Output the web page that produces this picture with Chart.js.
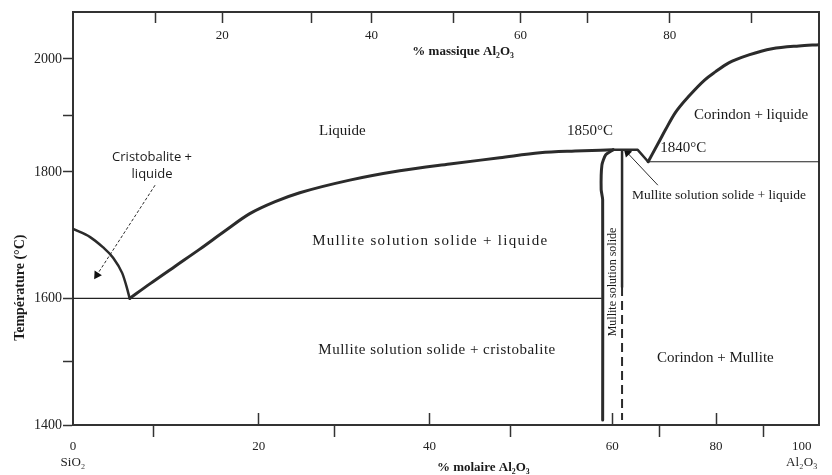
<!DOCTYPE html>
<html>
<head>
<meta charset="utf-8">
<script src="https://cdn.jsdelivr.net/npm/chart.js@4.4.1/dist/chart.umd.min.js"></script>
<style>
  body { margin: 0; background: #fff; }
</style>
</head>
<body>
<canvas id="chartPhase" width="832" height="475"></canvas>
<script>
// Diagramme de phases SiO2 - Al2O3
// x = % massique Al2O3 (axe du haut), y = température en °C

const massTicks = [11, 20, 32, 40, 51, 60, 69, 80, 91];
const massTickLabels = ['', '20', '', '40', '', '60', '', '80', ''];

// graduations en % molaire, placees la ou elles tombent sur l'echelle massique
// (le libelle 100 est decale vers l'interieur comme sur l'original)
const molTicks = [0, 24.9, 47.8, 72.3, 86.2, 97.7];
const molTickLabels = [['0', 'SiO₂'], '20', '40', '60', '80', ['100', 'Al₂O₃']];
const molMinorTicks = [10.8, 35.1, 58.6, 78.6, 92.5];

const tempTicks = [1400, 1500, 1600, 1800, 1900, 2000];
const tempTickLabels = ['1400', '', '1600', '1800', '', '2000'];

// courbes [% massique, °C]
const liquidusSilice = [[0, 1710], [2.3, 1697], [4.0, 1681], [5.4, 1664], [6.6, 1640], [7.2, 1618], [7.6, 1600]];
const liquidusMullite = [[7.6, 1600], [10.3, 1623], [13.7, 1651], [17.0, 1678], [20.4, 1707], [23.7, 1734],
    [27.1, 1753], [30.4, 1767], [37.1, 1787], [43.8, 1802], [50.5, 1814], [57.2, 1825], [62.6, 1834],
    [67.3, 1837], [72.4, 1839]];
const sommetMullite = [[72.4, 1839], [75.7, 1839], [77.1, 1818]];
const liquidusCorindon = [[77.1, 1818], [78.7, 1857], [79.4, 1874], [80.7, 1904], [82.7, 1936], [84.7, 1963],
    [86.1, 1977], [87.9, 1993], [90.6, 2007], [93.7, 2018], [97.3, 2023], [100, 2025]];
const eutectique1600 = [[0, 1600], [70.8, 1600]];
const eutectique1840 = [[77.1, 1818], [100, 1818]];
const mulliteGauche = [[72.4, 1839], [71.4, 1830], [70.9, 1812], [70.8, 1772], [71.0, 1756], [71.0, 1408]];
const mulliteDroite = [[73.6, 1837], [73.6, 1618]];
const mulliteDroiteTirets = [[73.6, 1618], [73.6, 1408]];
const flecheCristobalite = [[11.0, 1779], [3.2, 1637]];
const flecheMullite = [[78.4, 1779], [74.3, 1834]];

const annotations = [
    { text: 'Liquide', x: 36.1, y: 1873 },
    { text: 'Cristobalite +', x: 10.6, y: 1826, font: '13px "Open Sans"' },
    { text: 'liquide', x: 10.6, y: 1797, font: '13px "Open Sans"' },
    { text: '1850°C', x: 69.3, y: 1873 },
    { text: '1840°C', x: 81.8, y: 1843 },
    { text: 'Corindon + liquide', x: 90.9, y: 1901 },
    { text: 'Mullite solution solide + liquide', x: 86.6, y: 1762, font: '13.5px "Liberation Serif"' },
    { text: 'Mullite solution solide + liquide', x: 47.9, y: 1691, spacing: 1.3 },
    { text: 'Mullite solution solide + cristobalite', x: 48.8, y: 1519, spacing: 0.5 },
    { text: 'Corindon + Mullite', x: 86.1, y: 1506 },
    { text: 'Mullite solution solide', x: 72.4, y: 1626, rotate: true, font: '12px "Liberation Serif"' },
    { text: '% massique Al₂O₃', x: 52.3, y: 2012, font: 'bold 13px "Liberation Serif"' },
    { text: '% molaire Al₂O₃', x: 55.0, y: 1332, font: 'bold 13px "Liberation Serif"' },
    { text: 'Température (°C)', x: -7.1, y: 1617, rotate: true, font: 'bold 14px "Liberation Serif"' }
];

// le dessin original tasse l'echelle au-dessus de 1800 °C
const warpFrom = 1800, warpK = 0.893;
function warp(v) { return v <= warpFrom ? v : warpFrom + (v - warpFrom) * warpK; }
function unwarp(w) { return w <= warpFrom ? w : warpFrom + (w - warpFrom) / warpK; }

class WarpScale extends Chart.LinearScale {
    getPixelForValue(value) {
        if (value === null || value === undefined) return NaN;
        const a = warp(this.min), b = warp(this.max);
        return this.getPixelForDecimal((warp(value) - a) / (b - a));
    }
    getValueForPixel(pixel) {
        const a = warp(this.min), b = warp(this.max);
        return unwarp(a + this.getDecimalForPixel(pixel) * (b - a));
    }
}
WarpScale.id = 'warp';
WarpScale.defaults = Chart.LinearScale.defaults;
Chart.register(WarpScale);

const ink = '#2b2b2b';

function courbe(points, width, extra) {
    return Object.assign({
        data: points.map(p => ({ x: p[0], y: p[1] })),
        borderColor: ink,
        borderWidth: width,
        pointRadius: 0,
        showLine: true,
        tension: 0,
        borderJoinStyle: 'round',
        borderCapStyle: 'round'
    }, extra);
}

function fleche(points, rotation, dash) {
    return courbe(points, 1, {
        borderDash: dash,
        borderCapStyle: 'butt',
        pointRadius: [0, 5],
        pointStyle: 'triangle',
        pointRotation: rotation,
        pointBackgroundColor: '#111',
        pointBorderColor: '#111',
        pointBorderWidth: 0
    });
}

// marges de libelles a zero pour garder la zone de trace fixe
function sansMarge(s) {
    s.paddingLeft = 0;
    s.paddingRight = 0;
    s.paddingTop = 0;
    s.paddingBottom = 0;
}

const textPlugin = {
    id: 'diagramTexts',
    afterDatasetsDraw(chart) {
        const ctx = chart.ctx;
        const x = chart.scales.x, y = chart.scales.y;
        ctx.save();
        ctx.fillStyle = '#1a1a1a';
        ctx.textAlign = 'center';
        ctx.textBaseline = 'middle';
        annotations.forEach(a => {
            ctx.save();
            ctx.font = a.font || '15px "Liberation Serif"';
            ctx.letterSpacing = (a.spacing || 0) + 'px';
            ctx.translate(x.getPixelForValue(a.x), y.getPixelForValue(a.y));
            if (a.rotate) ctx.rotate(-Math.PI / 2);
            ctx.fillText(a.text, 0, 0);
            ctx.restore();
        });
        ctx.restore();
    }
};

const serif = { family: '"Liberation Serif"', size: 13 };

const config = {
    type: 'scatter',
    data: {
        datasets: [
            courbe(liquidusSilice, 2.5, { cubicInterpolationMode: 'monotone' }),
            courbe(liquidusMullite, 3, { cubicInterpolationMode: 'monotone' }),
            courbe(sommetMullite, 2.5),
            courbe(liquidusCorindon, 3, { cubicInterpolationMode: 'monotone' }),
            courbe(eutectique1600, 1.2, { borderColor: '#222' }),
            courbe(eutectique1840, 1.2, { borderColor: '#222' }),
            courbe(mulliteGauche, 3, { tension: 0.2 }),
            courbe(mulliteDroite, 2.5),
            courbe(mulliteDroiteTirets, 2, { borderDash: [9, 5], borderCapStyle: 'butt' }),
            fleche(flecheCristobalite, 213, [3, 2]),
            fleche(flecheMullite, 316, [])
        ]
    },
    options: {
        responsive: false,
        animation: false,
        events: [],
        layout: { padding: 0 },
        plugins: {
            legend: { display: false },
            tooltip: { enabled: false }
        },
        scales: {
            x: {
                type: 'linear',
                position: 'top',
                min: 0,
                max: 100,
                afterBuildTicks: s => { s.ticks = massTicks.map(v => ({ value: v })); },
                afterFit: s => { s.height = 12; sansMarge(s); },
                border: { color: '#333', width: 2 },
                grid: { drawOnChartArea: false, tickLength: -11, tickColor: '#333', tickWidth: 1.5 },
                ticks: {
                    autoSkip: false, maxRotation: 0, mirror: true, padding: 16,
                    color: '#222', font: serif,
                    callback: (v, i) => massTickLabels[i]
                }
            },
            xMolMinor: {
                type: 'linear',
                position: 'bottom',
                weight: 0,
                min: 0,
                max: 100,
                afterBuildTicks: s => { s.ticks = molMinorTicks.map(v => ({ value: v })); },
                afterFit: s => { s.height = 0; sansMarge(s); },
                border: { display: false },
                grid: { drawOnChartArea: false, tickLength: 12, tickColor: '#333', tickWidth: 1.5 },
                ticks: { display: false }
            },
            xMol: {
                type: 'linear',
                position: 'bottom',
                weight: 1,
                min: 0,
                max: 100,
                afterBuildTicks: s => { s.ticks = molTicks.map(v => ({ value: v })); },
                afterFit: s => { s.height = 50; sansMarge(s); },
                border: { color: '#333', width: 2 },
                grid: {
                    drawOnChartArea: false, tickLength: -12, tickWidth: 1.5,
                    // pas de trait pour les libelles d'extremite
                    tickColor: c => (c.index === 0 || c.index === molTicks.length - 1) ? 'rgba(0,0,0,0)' : '#333'
                },
                ticks: {
                    autoSkip: false, maxRotation: 0, padding: 26,
                    color: '#222', font: serif,
                    callback: (v, i) => molTickLabels[i]
                }
            },
            y: {
                type: 'warp',
                position: 'left',
                min: 1400,
                max: 2083,
                afterBuildTicks: s => { s.ticks = tempTicks.map(v => ({ value: v })); },
                afterFit: s => { s.width = 73; sansMarge(s); },
                border: { color: '#333', width: 2 },
                grid: { drawOnChartArea: false, tickLength: 10, tickColor: '#333', tickWidth: 1.5 },
                ticks: {
                    autoSkip: false, padding: 1,
                    color: '#222', font: { family: '"Liberation Serif"', size: 14 },
                    callback: (v, i) => tempTickLabels[i]
                }
            },
            yRight: {
                type: 'linear',
                position: 'right',
                afterFit: s => { s.width = 13; sansMarge(s); },
                border: { color: '#333', width: 2 },
                grid: { display: false },
                ticks: { display: false }
            }
        }
    },
    plugins: [textPlugin]
};

new Chart(document.getElementById('chartPhase'), config);
</script>
</body>
</html>
